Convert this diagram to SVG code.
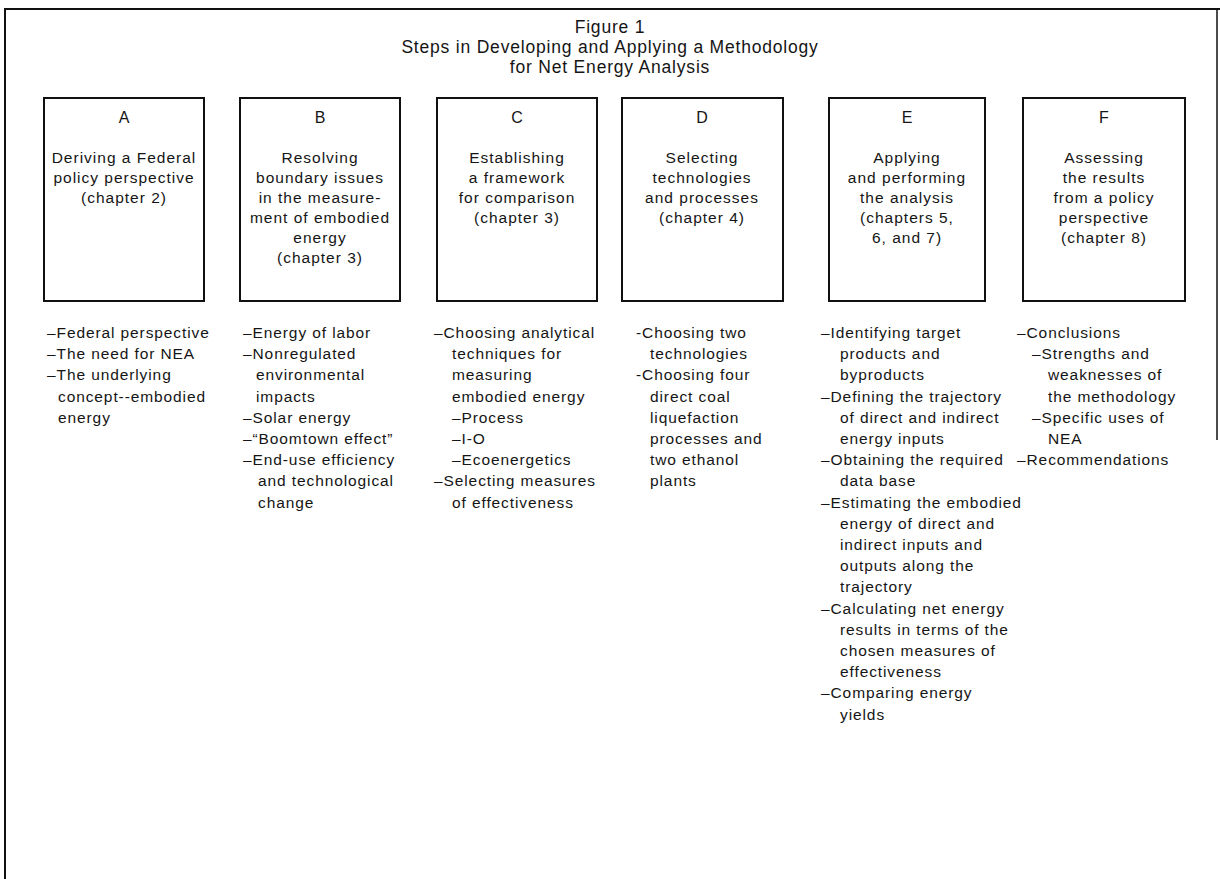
<svg xmlns="http://www.w3.org/2000/svg" width="1220" height="879" viewBox="0 0 1220 879">
<style>
.frame{stroke:#111;stroke-width:2;fill:none}
.box{stroke:#111;stroke-width:2;fill:#fff}
text{font-family:"Liberation Sans",Arial,sans-serif;fill:#151515}
.title{font-size:17.5px;letter-spacing:0.8px;text-anchor:middle}
.lbl{font-size:16px;text-anchor:middle}
.bt{font-size:15.5px;letter-spacing:1px;text-anchor:middle}
.li{font-size:15.5px;letter-spacing:0.9px}
</style>
<rect width="1220" height="879" fill="#fff"/>
<g id="frame">
<line class="frame" x1="4" y1="9" x2="1220" y2="9"/>
<line class="frame" x1="5" y1="9" x2="5" y2="879"/>
<line class="frame" x1="1217" y1="9" x2="1217" y2="440" style="stroke-width:1.5"/>
</g>
<g id="title">
<text class="title" x="610" y="33">Figure 1</text>
<text class="title" x="610" y="53">Steps in Developing and Applying a Methodology</text>
<text class="title" x="610" y="73">for Net Energy Analysis</text>
</g>
<g id="connectors"></g>
<g id="nodeA">
<rect class="box" x="44" y="98" width="160" height="203"/>
<text class="lbl" x="124" y="123">A</text>
<text class="bt" x="124" y="163">Deriving a Federal</text>
<text class="bt" x="124" y="183">policy perspective</text>
<text class="bt" x="124" y="203">(chapter 2)</text>
</g>
<g id="nodeB">
<rect class="box" x="240" y="98" width="160" height="203"/>
<text class="lbl" x="320" y="123">B</text>
<text class="bt" x="320" y="163">Resolving</text>
<text class="bt" x="320" y="183">boundary issues</text>
<text class="bt" x="320" y="203">in the measure-</text>
<text class="bt" x="320" y="223">ment of embodied</text>
<text class="bt" x="320" y="243">energy</text>
<text class="bt" x="320" y="263">(chapter 3)</text>
</g>
<g id="nodeC">
<rect class="box" x="437" y="98" width="160" height="203"/>
<text class="lbl" x="517" y="123">C</text>
<text class="bt" x="517" y="163">Establishing</text>
<text class="bt" x="517" y="183">a framework</text>
<text class="bt" x="517" y="203">for comparison</text>
<text class="bt" x="517" y="223">(chapter 3)</text>
</g>
<g id="nodeD">
<rect class="box" x="622" y="98" width="161" height="203"/>
<text class="lbl" x="702" y="123">D</text>
<text class="bt" x="702" y="163">Selecting</text>
<text class="bt" x="702" y="183">technologies</text>
<text class="bt" x="702" y="203">and processes</text>
<text class="bt" x="702" y="223">(chapter 4)</text>
</g>
<g id="nodeE">
<rect class="box" x="829" y="98" width="156" height="203"/>
<text class="lbl" x="907" y="123">E</text>
<text class="bt" x="907" y="163">Applying</text>
<text class="bt" x="907" y="183">and performing</text>
<text class="bt" x="907" y="203">the analysis</text>
<text class="bt" x="907" y="223">(chapters 5,</text>
<text class="bt" x="907" y="243">6, and 7)</text>
</g>
<g id="nodeF">
<rect class="box" x="1023" y="98" width="162" height="203"/>
<text class="lbl" x="1104" y="123">F</text>
<text class="bt" x="1104" y="163">Assessing</text>
<text class="bt" x="1104" y="183">the results</text>
<text class="bt" x="1104" y="203">from a policy</text>
<text class="bt" x="1104" y="223">perspective</text>
<text class="bt" x="1104" y="243">(chapter 8)</text>
</g>
<g id="listA">
<text class="li" x="47" y="338">–Federal perspective</text>
<text class="li" x="47" y="359.2">–The need for NEA</text>
<text class="li" x="47" y="380.4">–The underlying</text>
<text class="li" x="58" y="401.6">concept--embodied</text>
<text class="li" x="58" y="422.8">energy</text>
</g>
<g id="listB">
<text class="li" x="243" y="338">–Energy of labor</text>
<text class="li" x="243" y="359.2">–Nonregulated</text>
<text class="li" x="256" y="380.4">environmental</text>
<text class="li" x="256" y="401.6">impacts</text>
<text class="li" x="243" y="422.8">–Solar energy</text>
<text class="li" x="243" y="444">–“Boomtown effect”</text>
<text class="li" x="243" y="465.2">–End-use efficiency</text>
<text class="li" x="258" y="486.4">and technological</text>
<text class="li" x="258" y="507.6">change</text>
</g>
<g id="listC">
<text class="li" x="434" y="338">–Choosing analytical</text>
<text class="li" x="452" y="359.2">techniques for</text>
<text class="li" x="452" y="380.4">measuring</text>
<text class="li" x="452" y="401.6">embodied energy</text>
<text class="li" x="452" y="422.8">–Process</text>
<text class="li" x="452" y="444">–I-O</text>
<text class="li" x="452" y="465.2">–Ecoenergetics</text>
<text class="li" x="434" y="486.4">–Selecting measures</text>
<text class="li" x="452" y="507.6">of effectiveness</text>
</g>
<g id="listD">
<text class="li" x="636" y="338">-Choosing two</text>
<text class="li" x="650" y="359.2">technologies</text>
<text class="li" x="636" y="380.4">-Choosing four</text>
<text class="li" x="650" y="401.6">direct coal</text>
<text class="li" x="650" y="422.8">liquefaction</text>
<text class="li" x="650" y="444">processes and</text>
<text class="li" x="650" y="465.2">two ethanol</text>
<text class="li" x="650" y="486.4">plants</text>
</g>
<g id="listE">
<text class="li" x="821" y="338">–Identifying target</text>
<text class="li" x="840" y="359.2">products and</text>
<text class="li" x="840" y="380.4">byproducts</text>
<text class="li" x="821" y="401.6">–Defining the trajectory</text>
<text class="li" x="840" y="422.8">of direct and indirect</text>
<text class="li" x="840" y="444">energy inputs</text>
<text class="li" x="821" y="465.2">–Obtaining the required</text>
<text class="li" x="840" y="486.4">data base</text>
<text class="li" x="821" y="507.6">–Estimating the embodied</text>
<text class="li" x="840" y="528.8">energy of direct and</text>
<text class="li" x="840" y="550">indirect inputs and</text>
<text class="li" x="840" y="571.2">outputs along the</text>
<text class="li" x="840" y="592.4">trajectory</text>
<text class="li" x="821" y="613.6">–Calculating net energy</text>
<text class="li" x="840" y="634.8">results in terms of the</text>
<text class="li" x="840" y="656">chosen measures of</text>
<text class="li" x="840" y="677.2">effectiveness</text>
<text class="li" x="821" y="698.4">–Comparing energy</text>
<text class="li" x="840" y="719.6">yields</text>
</g>
<g id="listF">
<text class="li" x="1017" y="338">–Conclusions</text>
<text class="li" x="1032" y="359.2">–Strengths and</text>
<text class="li" x="1048" y="380.4">weaknesses of</text>
<text class="li" x="1048" y="401.6">the methodology</text>
<text class="li" x="1032" y="422.8">–Specific uses of</text>
<text class="li" x="1048" y="444">NEA</text>
<text class="li" x="1017" y="465.2">–Recommendations</text>
</g>
</svg>
